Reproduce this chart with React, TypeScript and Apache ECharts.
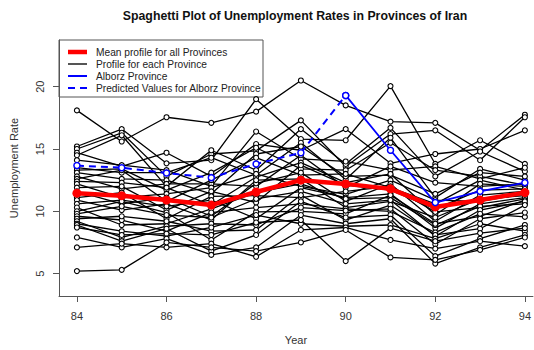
import { useEffect, useRef } from "react";
import * as echarts from "echarts";

const years = [84, 85, 86, 87, 88, 89, 90, 91, 92, 93, 94];

// Unemployment rate (%) per province, one row per province, years 84..94
const provinceRates: number[][] = [
  [18.1, 15.6, 17.55, 17.1, 18.0, 20.5, 18.5, 17.2, 17.1, 14.9, 17.75],
  [15.2, 16.6, 13.85, 14.1, 19.0, 15.8, 15.7, 20.05, 13.8, 15.7, 13.8],
  [15.0, 16.3, 12.8, 14.6, 14.85, 17.3, 13.6, 16.2, 16.5, 14.1, 17.55],
  [14.7, 13.6, 14.7, 12.8, 15.4, 14.9, 16.6, 13.85, 14.6, 15.0, 16.5],
  [14.5, 16.1, 12.0, 14.9, 13.3, 16.6, 13.8, 16.7, 12.8, 14.8, 13.2],
  [14.1, 13.7, 13.3, 12.0, 16.4, 14.2, 14.0, 13.3, 13.6, 12.6, 13.5],
  [13.5, 13.1, 13.1, 14.3, 12.9, 15.5, 12.55, 15.9, 11.1, 13.4, 12.5],
  [13.3, 13.4, 11.7, 13.1, 15.1, 13.4, 13.3, 15.5, 13.3, 12.8, 12.1],
  [13.1, 12.6, 12.5, 11.4, 14.6, 15.2, 12.8, 12.9, 11.4, 13.1, 12.8],
  [12.8, 11.8, 12.2, 12.2, 12.0, 14.5, 11.9, 13.6, 12.3, 12.0, 12.2],
  [12.6, 13.3, 10.8, 12.5, 14.3, 12.9, 13.0, 11.9, 10.6, 12.5, 11.7],
  [12.4, 12.3, 11.9, 10.5, 12.75, 13.9, 12.3, 13.0, 9.7, 12.2, 12.0],
  [12.2, 11.1, 11.4, 11.9, 13.0, 12.0, 11.35, 12.5, 10.9, 10.8, 11.4],
  [11.9, 12.0, 10.1, 11.6, 10.7, 13.7, 12.1, 11.7, 10.2, 11.7, 11.8],
  [11.6, 10.6, 11.1, 9.6, 12.25, 13.1, 10.8, 12.2, 9.2, 11.3, 11.6],
  [11.1, 11.5, 9.4, 11.2, 11.25, 11.1, 11.6, 12.0, 9.95, 10.3, 11.0],
  [10.9, 10.1, 10.6, 9.3, 12.5, 12.6, 10.3, 10.8, 9.5, 11.0, 11.25],
  [10.6, 10.9, 10.4, 10.9, 9.4, 11.9, 11.1, 11.4, 8.65, 10.6, 11.1],
  [10.3, 8.9, 9.0, 10.2, 11.5, 12.2, 11.0, 11.1, 8.9, 10.4, 10.6],
  [10.0, 10.8, 9.9, 7.7, 9.95, 10.0, 9.8, 11.3, 9.0, 9.6, 10.9],
  [9.8, 10.4, 9.7, 9.5, 11.0, 11.6, 10.6, 10.9, 8.0, 10.1, 10.8],
  [9.6, 9.3, 8.4, 9.9, 10.3, 10.6, 10.2, 10.0, 8.3, 9.8, 9.55],
  [9.4, 9.6, 9.2, 8.4, 8.5, 11.3, 9.3, 10.5, 8.1, 8.6, 10.5],
  [9.2, 7.9, 8.8, 9.0, 8.9, 10.3, 10.05, 10.2, 7.35, 9.4, 9.9],
  [9.0, 8.4, 8.0, 8.7, 9.7, 9.0, 8.8, 8.9, 7.8, 9.0, 8.4],
  [8.9, 7.6, 8.6, 6.8, 8.1, 10.8, 9.5, 9.7, 6.4, 7.8, 8.9],
  [8.7, 8.1, 8.2, 8.1, 9.1, 9.3, 6.0, 8.65, 7.6, 8.25, 8.65],
  [7.9, 7.1, 7.8, 6.5, 7.1, 9.7, 9.0, 9.4, 5.8, 7.1, 8.1],
  [7.1, 7.4, 7.1, 7.4, 6.35, 8.5, 8.7, 7.7, 7.0, 7.6, 7.2],
  [5.2, 5.3, 7.5, 7.1, 6.8, 7.5, 8.5, 6.3, 6.1, 6.9, 7.9],
];

// Mean profile over all provinces, years 84..94
const meanProfile = [11.45, 11.25, 10.9, 10.5, 11.55, 12.5, 12.2, 11.8, 10.35, 10.9, 11.5];

// Alborz: predicted values for years 84..90, observed values for years 90..94
const alborzPredicted = [13.67, 13.5, 13.07, 12.7, 13.8, 14.7, 19.3];
const alborzObserved = [19.3, 14.9, 10.7, 11.6, 12.3];
const observedStartIndex = 6;

const xTicks = [84, 86, 88, 90, 92, 94];
const yTicks = [5, 10, 15, 20];

const legendLabels = [
  "Mean profile for all Provinces",
  "Profile for each Province",
  "Alborz Province",
  "Predicted Values for Alborz Province",
];

const FONT = "'Liberation Sans', Arial, sans-serif";

export default function App() {
  const ref = useRef<HTMLDivElement>(null);

  useEffect(() => {
    if (!ref.current) return;
    const chart = echarts.init(ref.current, null, { renderer: "svg" });

    const provinceSeries = provinceRates.map((row, i) => ({
      type: "line",
      name: "province-" + i,
      data: row.map((v, k) => [years[k], v]),
      symbol: "circle",
      symbolSize: 5,
      itemStyle: { color: "#ffffff", borderColor: "#000000", borderWidth: 1.1 },
      lineStyle: { color: "#000000", width: 1.3 },
      z: 2,
    }));

    const meanSeries = {
      type: "line",
      name: "mean",
      data: meanProfile.map((v, k) => [years[k], v]),
      symbol: "circle",
      symbolSize: 9,
      itemStyle: { color: "#ff0000" },
      lineStyle: { color: "#ff0000", width: 4.5 },
      z: 4,
    };

    const predictedSeries = {
      type: "line",
      name: "alborz-predicted",
      data: alborzPredicted.map((v, k) => [years[k], v]),
      symbol: "circle",
      symbolSize: 6,
      itemStyle: { color: "#ffffff", borderColor: "#0000ff", borderWidth: 1.5 },
      lineStyle: { color: "#0000ff", width: 2, type: [7, 5] },
      z: 5,
    };

    const observedSeries = {
      type: "line",
      name: "alborz",
      data: alborzObserved.map((v, k) => [years[k + observedStartIndex], v]),
      symbol: "circle",
      symbolSize: 6,
      itemStyle: { color: "#ffffff", borderColor: "#0000ff", borderWidth: 1.5 },
      lineStyle: { color: "#0000ff", width: 1.8 },
      z: 5,
    };

    // Legend box in the top-left corner of the plotting region
    const legendX = 59;
    const legendY = 40;
    const rowY = [52, 64, 76, 88];
    const swatches = [
      { stroke: "#ff0000", lineWidth: 4.5 },
      { stroke: "#555555", lineWidth: 2 },
      { stroke: "#0000ff", lineWidth: 2 },
      { stroke: "#0000ff", lineWidth: 2, lineDash: [7, 5] },
    ];
    const legendChildren: any[] = [
      {
        type: "rect",
        shape: { x: legendX, y: legendY, width: 204, height: 57 },
        style: { fill: "#ffffff", stroke: "#555555", lineWidth: 1 },
      },
    ];
    legendLabels.forEach((label, i) => {
      legendChildren.push({
        type: "line",
        shape: { x1: 68, y1: rowY[i], x2: 87, y2: rowY[i] },
        style: { ...swatches[i] },
      });
      legendChildren.push({
        type: "text",
        x: 96,
        y: rowY[i],
        style: {
          text: label,
          font: `10.2px ${FONT}`,
          fill: "#222222",
          verticalAlign: "middle",
        },
      });
    });

    chart.setOption({
      animation: false,
      backgroundColor: "#ffffff",
      grid: { left: 59, top: 40, right: 0, bottom: 47, containLabel: false },
      xAxis: {
        type: "value",
        min: 83.6,
        max: 94.18,
        name: "Year",
        nameLocation: "middle",
        nameGap: 38,
        nameTextStyle: { fontFamily: FONT, fontSize: 11, color: "#333333" },
        axisLine: { show: true, lineStyle: { color: "#555555", width: 1 } },
        axisTick: { show: true, length: 6, customValues: xTicks, lineStyle: { color: "#555555" } },
        axisLabel: {
          customValues: xTicks,
          margin: 14,
          fontFamily: FONT,
          fontSize: 11,
          color: "#333333",
          hideOverlap: false,
          showMaxLabel: true,
        },
        splitLine: { show: false },
      },
      yAxis: {
        type: "value",
        min: 3.2,
        max: 23.75,
        name: "Unemployment Rate",
        nameLocation: "middle",
        nameGap: 40,
        nameTextStyle: { fontFamily: FONT, fontSize: 11, color: "#333333" },
        axisLine: { show: true, lineStyle: { color: "#555555", width: 1 } },
        axisTick: { show: true, length: 6, customValues: yTicks, lineStyle: { color: "#555555" } },
        axisLabel: {
          customValues: yTicks,
          rotate: 90,
          margin: 14,
          fontFamily: FONT,
          fontSize: 11,
          color: "#333333",
        },
        splitLine: { show: false },
      },
      graphic: [
        {
          type: "text",
          x: 295,
          y: 16,
          z: 10,
          style: {
            text: "Spaghetti Plot of Unemployment Rates in Provinces of Iran",
            font: `bold 12.3px ${FONT}`,
            fill: "#111111",
            align: "center",
            verticalAlign: "middle",
          },
        },
        { type: "group", z: 100, children: legendChildren },
      ],
      series: [...provinceSeries, meanSeries, predictedSeries, observedSeries],
    });

    return () => chart.dispose();
  }, []);

  return (
    <div
      ref={ref}
      style={{ position: "fixed", left: 0, top: 0, width: 534, height: 350 }}
    />
  );
}
